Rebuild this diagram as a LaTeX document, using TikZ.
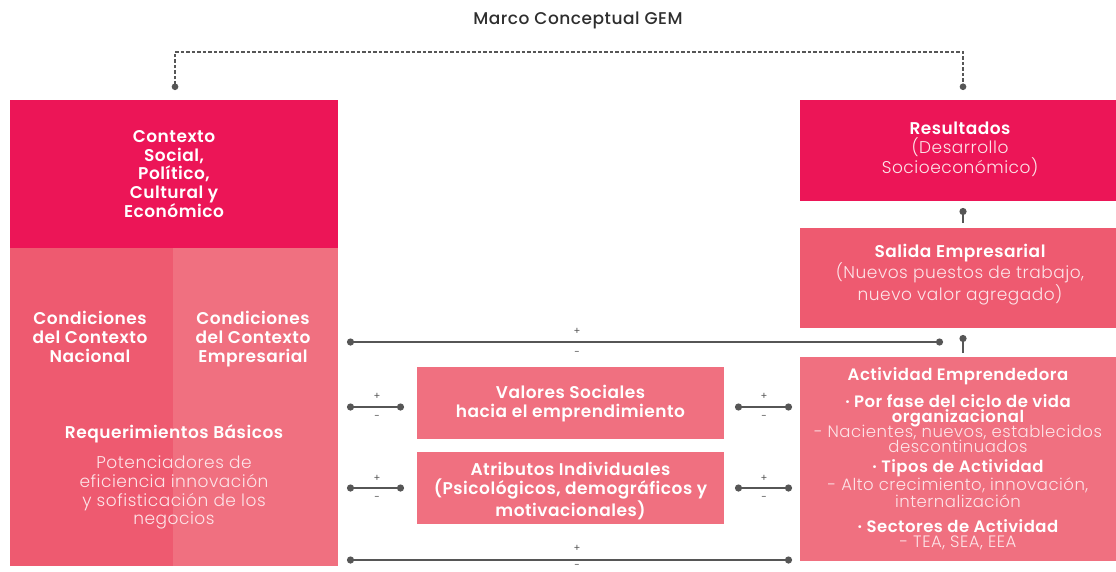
\documentclass[tikz,border=0pt]{standalone}
\usepackage{fontspec}
\setmainfont{Poppins}[LetterSpace=3, BoldFont={Poppins SemiBold}]
\newfontfamily\titlefont{Poppins Medium}[LetterSpace=3]
\newfontfamily\lightfont{Poppins Light}[LetterSpace=3]
\usetikzlibrary{arrows.meta}
\newcommand\tightlines{\lineskiplimit=-20pt\relax}

\definecolor{crimson}{HTML}{EC1557}
\definecolor{rosedark}{HTML}{EE5A70}
\definecolor{roselight}{HTML}{F07080}
\definecolor{wire}{HTML}{565656}
\definecolor{softwhite}{HTML}{FDE4E8}
\definecolor{inkgray}{HTML}{2E2E2E}

\begin{document}
\begin{tikzpicture}[x=1pt,y=-1pt,
  panel/.style={rectangle, inner sep=0pt, outer sep=0pt, text=white, align=center},
  hd/.style={font=\fontsize{17}{18.8}\selectfont\bfseries, text=white, align=center},
  bd/.style={font=\fontsize{17}{18.8}\selectfont\lightfont, text=softwhite, align=center},
  link/.style={draw=wire, line width=2.4pt, {Circle[length=7pt]}-{Circle[length=7pt]}},
  pin/.style={draw=wire, line width=2.4pt, -{Circle[length=7pt]}},
  frame link/.style={draw=wire, line width=2.5pt, dash pattern=on 3.5pt off 2pt,
    {Circle[length=6.5pt]}-{Circle[length=6.5pt]}},
  pm/.style={font=\fontsize{10}{10}\selectfont, text=wire, inner sep=0pt},
]
\useasboundingbox (0,0) rectangle (1116,571);

% title
\node[font=\fontsize{17}{19}\selectfont\titlefont, text=inkgray] (title) at (578,20) {Marco Conceptual GEM};

% left column
\node[panel, fill=crimson, minimum width=328, minimum height=148] (ctx) at (174,174) {};
\node[hd] (ctxT) at (174,174) {Contexto\\Social,\\Político,\\Cultural y\\Económico};
\node[panel, fill=rosedark, minimum width=163, minimum height=318] (nac) at (91.5,407) {};
\node[panel, fill=roselight, minimum width=165, minimum height=318] (emp) at (255.5,407) {};
\node[hd] (nacT) at (90,337) {Condiciones\\del Contexto\\Nacional};
\node[hd] (empT) at (253,339) {Condiciones\\del Contexto\\Empresarial};
\node[hd] (reqT) at (174,434) {Requerimientos Básicos};
\node[bd] (potT) at (174,492.5) {Potenciadores de\\eficiencia innovación\\y sofisticación de los\\negocios};

% right column
\node[panel, fill=crimson, minimum width=316, minimum height=101] (res) at (958,150.5) {};
\node[bd] (resT) at (960,149) {{\bfseries\color{white}Resultados}\\(Desarrollo\\Socioeconómico)};
\node[panel, fill=rosedark, minimum width=316, minimum height=100] (sal) at (958,278) {};
\node[bd] (salT) at (960,274.5) {{\bfseries\color{white}Salida Empresarial}\\(Nuevos puestos de trabajo,\\nuevo valor agregado)};
\node[panel, fill=roselight, minimum width=316, minimum height=204] (act) at (958,459) {};
\node[font={\fontsize{16.5}{15}\selectfont\lightfont\tightlines}, text=softwhite, align=center] (actT) at (958,459) {%
  {\bfseries\color{white}Actividad Emprendedora}\\[12pt]
  {\bfseries\color{white}· Por fase del ciclo de vida}\\
  {\bfseries\color{white}organizacional}\\
  - Nacientes, nuevos, establecidos\\
  descontinuados\\[5pt]
  {\bfseries\color{white}· Tipos de Actividad}\\[3pt]
  - Alto crecimiento, innovación,\\[2pt]
  internalización\\[10pt]
  {\bfseries\color{white}· Sectores de Actividad}\\
  - TEA, SEA, EEA};

% middle column
\node[panel, fill=roselight, minimum width=307, minimum height=72] (val) at (570.5,403) {};
\node[hd] (valT) at (570.5,403.5) {Valores Sociales\\hacia el emprendimiento};
\node[panel, fill=roselight, minimum width=307, minimum height=72] (att) at (570.5,488) {};
\node[hd] (attT) at (570.5,491) {Atributos Individuales\\(Psicológicos, demográficos y\\motivacionales)};

% framework bracket
\coordinate (fL) at (175,90);
\coordinate (fR) at (963,90);
\draw[frame link] (fL) -- (175,52) -- (963,52) -- (fR);

% connector end points
\coordinate (topL) at (347,342);
\coordinate (topR) at (943,342);
\coordinate (valL1) at (347,407);
\coordinate (valL2) at (404,407);
\coordinate (valR1) at (735,407);
\coordinate (valR2) at (792,407);
\coordinate (attL1) at (347,488);
\coordinate (attL2) at (404,488);
\coordinate (attR1) at (735,488);
\coordinate (attR2) at (792,488);
\coordinate (botL) at (347,560);
\coordinate (botR) at (792,560);
\coordinate (actUp) at (963,353);
\coordinate (actTip) at (963,335);
\coordinate (salUp) at (963,223);
\coordinate (salTip) at (963,208);

\draw[link] (topL) -- (topR);
\draw[link] (valL1) -- (valL2);
\draw[link] (valR1) -- (valR2);
\draw[link] (attL1) -- (attL2);
\draw[link] (attR1) -- (attR2);
\draw[link] (botL) -- (botR);
\draw[pin] (actUp) -- (actTip);
\draw[pin] (salUp) -- (salTip);

% signs
\node[pm] (p1) at (577,331) {+};
\node[pm] (m1) at (577,353) {-};
\node[pm] (p2) at (377,396) {+};
\node[pm] (m2) at (377,417) {-};
\node[pm] (p3) at (764,396) {+};
\node[pm] (m3) at (764,417) {-};
\node[pm] (p4) at (377,478) {+};
\node[pm] (m4) at (377,498) {-};
\node[pm] (p5) at (764,478) {+};
\node[pm] (m5) at (764,498) {-};
\node[pm] (p6) at (577,548) {+};
\node[pm] (m6) at (577,566) {-};
\end{tikzpicture}
\end{document}
